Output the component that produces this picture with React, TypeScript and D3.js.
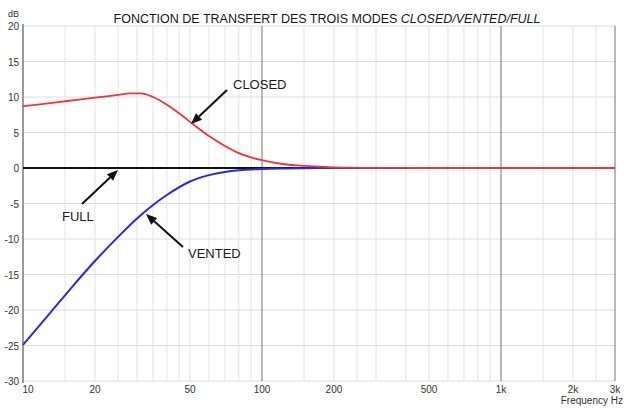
import React from "react";
import * as d3 from "d3";

const W = 624;
const H = 408;

const titleMain = "FONCTION DE TRANSFERT DES TROIS MODES ";
const titleItalic = "CLOSED/VENTED/FULL";

const closedFreq = [10, 12, 15, 20, 25, 28, 31, 35, 40, 45, 50, 60, 70, 80, 90, 100, 120, 150, 200, 300, 500, 3000];
const closedDb = [8.7, 9.0, 9.4, 9.9, 10.3, 10.5, 10.5, 10.0, 8.9, 7.7, 6.5, 4.5, 3.1, 2.1, 1.5, 1.1, 0.6, 0.3, 0.1, 0.02, 0, 0];

const ventedFreq = [10, 13, 16, 20, 25, 30, 35, 40, 50, 60, 70, 80, 100, 120, 150, 200, 3000];
const ventedDb = [-24.9, -20.4, -16.8, -13.1, -9.7, -7.1, -5.2, -3.8, -1.9, -1.0, -0.55, -0.32, -0.13, -0.06, -0.02, 0, 0];

const fullFreq = [10, 3000];
const fullDb = [0, 0];

const xTicks = [10, 20, 50, 100, 200, 500, 1000, 2000, 3000];
const xTickLabels = ["10", "20", "50", "100", "200", "500", "1k", "2k", "3k"];
const xMajorGrid = [100, 1000, 3000];
const xMinorGrid = [15, 20, 25, 30, 35, 40, 45, 50, 60, 70, 80, 90, 150, 200, 250, 300, 400, 500, 600, 700, 800, 900, 1500, 2000, 2500];
const yTicks = [20, 15, 10, 5, 0, -5, -10, -15, -20, -25, -30];

const annotations = [
  { label: "CLOSED", tx: 233, ty: 89, x1: 227, y1: 90, x2: 191, y2: 124 },
  { label: "FULL", tx: 62, ty: 221, x1: 82, y1: 204, x2: 118, y2: 170 },
  { label: "VENTED", tx: 188, ty: 258, x1: 183, y1: 247, x2: 146, y2: 214 },
];

const FONT = "'Liberation Sans', Arial, sans-serif";

export default function App() {
  const x = d3.scaleLog().domain([10, 3000]).range([23, 615]);
  const y = d3.scaleLinear().domain([-30, 20]).range([381, 26]);

  const line = d3
    .line<[number, number]>()
    .x((d) => x(d[0]))
    .y((d) => y(d[1]))
    .curve(d3.curveMonotoneX);

  const zip = (a: number[], b: number[]) => a.map((v, i) => [v, b[i]] as [number, number]);

  const arrow = (a: typeof annotations[0], i: number) => {
    const ang = Math.atan2(a.y2 - a.y1, a.x2 - a.x1);
    const L = 11;
    const hw = 4.5;
    const bx = a.x2 - L * Math.cos(ang);
    const by = a.y2 - L * Math.sin(ang);
    const px = -Math.sin(ang) * hw;
    const py = Math.cos(ang) * hw;
    return (
      <g key={i}>
        <line x1={a.x1} y1={a.y1} x2={bx} y2={by} stroke="#111" strokeWidth={2} />
        <polygon points={`${a.x2},${a.y2} ${bx + px},${by + py} ${bx - px},${by - py}`} fill="#111" />
        <text x={a.tx} y={a.ty} fontSize={13} fontFamily={FONT} fill="#1a1a1a">
          {a.label}
        </text>
      </g>
    );
  };

  return (
    <svg width={W} height={H} style={{ position: "absolute", left: 0, top: 0, background: "#fff" }}>
      <rect width={W} height={H} fill="#fff" />
      {yTicks.map((t) => (
        <line key={"h" + t} x1={23} x2={615} y1={y(t)} y2={y(t)} stroke="#dcdcdc" strokeWidth={1} />
      ))}
      {xMinorGrid.map((f) => (
        <line key={"m" + f} x1={x(f)} x2={x(f)} y1={y(20)} y2={y(-30)} stroke="#e2e2e2" strokeWidth={1} />
      ))}
      {xMajorGrid.map((f) => (
        <line key={"M" + f} x1={x(f)} x2={x(f)} y1={y(20)} y2={y(-30)} stroke="#8a8a8a" strokeWidth={1.2} />
      ))}
      <line x1={23} x2={23} y1={y(20) - 2} y2={y(-30) + 2} stroke="#9a9a9a" strokeWidth={2} />

      <path d={line(zip(fullFreq, fullDb)) || ""} fill="none" stroke="#111" strokeWidth={2} />
      <path d={line(zip(ventedFreq, ventedDb)) || ""} fill="none" stroke="#2a2ad8" strokeWidth={2} />
      <path d={line(zip(closedFreq, closedDb)) || ""} fill="none" stroke="#e6383c" strokeWidth={1.8} />

      <text x={8} y={17} fontSize={9} fontFamily={FONT} fill="#333">dB</text>
      {yTicks.map((t) => (
        <text key={"yl" + t} x={19} y={y(t) + 4} textAnchor="end" fontSize={10} fontFamily={FONT} fill="#333">
          {t}
        </text>
      ))}
      {xTicks.map((f, i) => (
        <text
          key={"xl" + f}
          x={i === 0 ? x(f) + 5 : x(f)}
          y={393}
          textAnchor="middle"
          fontSize={10}
          fontFamily={FONT}
          fill="#333"
        >
          {xTickLabels[i]}
        </text>
      ))}
      <text x={623} y={404} textAnchor="end" fontSize={10} fontFamily={FONT} fill="#333">
        Frequency Hz
      </text>

      <text x={327} y={23} textAnchor="middle" fontSize={12.5} fontFamily={FONT} fill="#151515">
        {titleMain}
        <tspan fontStyle="italic">{titleItalic}</tspan>
      </text>

      {annotations.map(arrow)}
    </svg>
  );
}
